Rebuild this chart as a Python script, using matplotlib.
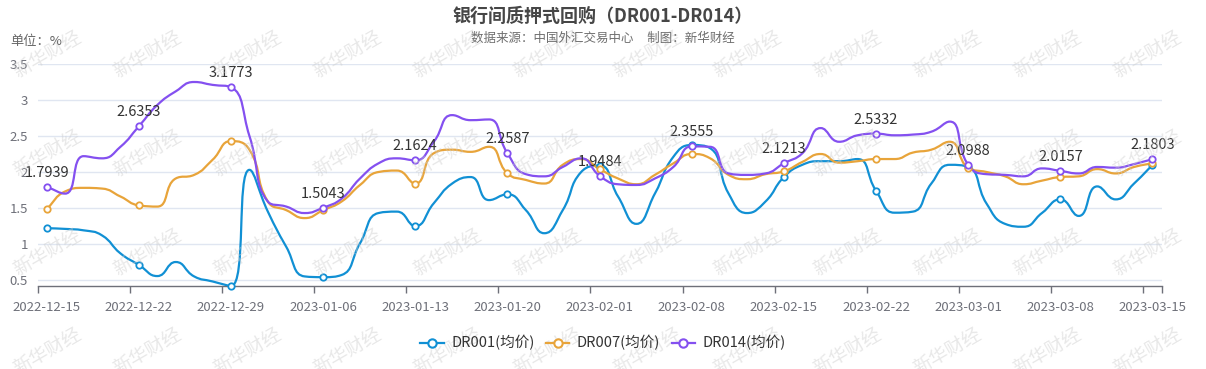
import numpy as np
import matplotlib
matplotlib.use('Agg')
import matplotlib.pyplot as plt
from matplotlib.path import Path
from matplotlib.patches import PathPatch

plt.rcParams['font.family'] = ['Noto Sans CJK SC', 'DejaVu Sans']

# trading days, 2022-12-15 .. 2023-03-15
dates = ['2022-12-15', '2022-12-16', '2022-12-19', '2022-12-20', '2022-12-21', '2022-12-22',
         '2022-12-23', '2022-12-26', '2022-12-27', '2022-12-28', '2022-12-29', '2022-12-30',
         '2023-01-03', '2023-01-04', '2023-01-05', '2023-01-06', '2023-01-09', '2023-01-10',
         '2023-01-11', '2023-01-12', '2023-01-13', '2023-01-16', '2023-01-17', '2023-01-18',
         '2023-01-19', '2023-01-20', '2023-01-28', '2023-01-29', '2023-01-30', '2023-01-31',
         '2023-02-01', '2023-02-02', '2023-02-03', '2023-02-06', '2023-02-07', '2023-02-08',
         '2023-02-09', '2023-02-10', '2023-02-13', '2023-02-14', '2023-02-15', '2023-02-16',
         '2023-02-17', '2023-02-20', '2023-02-21', '2023-02-22', '2023-02-23', '2023-02-24',
         '2023-02-27', '2023-02-28', '2023-03-01', '2023-03-02', '2023-03-03', '2023-03-06',
         '2023-03-07', '2023-03-08', '2023-03-09', '2023-03-10', '2023-03-13', '2023-03-14',
         '2023-03-15']

dr001 = [1.22, 1.21, 1.19, 1.12, 0.87, 0.71, 0.555, 0.75, 0.55, 0.48,
         0.417, 2.03, 1.45, 0.96, 0.55, 0.54, 0.57, 1.01, 1.43, 1.45,
         1.25, 1.565, 1.84, 1.93, 1.61, 1.69, 1.47, 1.15, 1.47, 2.00,
         2.09, 1.66, 1.28, 1.70, 2.21, 2.375, 2.33, 1.70, 1.43, 1.59,
         1.93, 2.10, 2.15, 2.15, 2.18, 1.74, 1.435, 1.45, 1.84, 2.10,
         2.07, 1.56, 1.28, 1.24, 1.43, 1.62, 1.39, 1.80, 1.62, 1.84,
         2.10]
dr007 = [1.486, 1.73, 1.78, 1.77, 1.66, 1.537, 1.52, 1.91, 1.96, 2.17,
         2.43, 2.31, 1.59, 1.47, 1.36, 1.47, 1.59, 1.82, 2.00, 2.02,
         1.84, 2.26, 2.31, 2.28, 2.35, 1.98, 1.89, 1.84, 2.10, 2.18,
         2.04, 1.91, 1.83, 1.96, 2.12, 2.25, 2.19, 1.96, 1.90, 1.97,
         2.01, 2.14, 2.25, 2.13, 2.15, 2.18, 2.18, 2.27, 2.31, 2.42,
         2.06, 2.00, 1.94, 1.83, 1.88, 1.93, 1.94, 2.04, 1.98, 2.07,
         2.12]
dr014 = [1.7939, 1.70, 2.22, 2.19, 2.35, 2.6353, 2.93, 3.12, 3.25, 3.21,
         3.1773, 2.50, 1.59, 1.52, 1.43, 1.5043, 1.63, 1.91, 2.12, 2.19,
         2.1624, 2.42, 2.79, 2.72, 2.73, 2.2587, 1.97, 1.94, 2.07, 2.19,
         1.9484, 1.83, 1.82, 1.91, 2.07, 2.3555, 2.35, 1.98, 1.96, 1.98,
         2.1213, 2.26, 2.61, 2.42, 2.51, 2.5332, 2.51, 2.52, 2.56, 2.70,
         2.0988, 1.97, 1.96, 1.94, 2.05, 2.0157, 1.98, 2.07, 2.06, 2.11,
         2.1803]

names = ['DR001(均价)', 'DR007(均价)', 'DR014(均价)']
colors = ['#1190d4', '#e8a43a', '#8450f0']


def smooth_path(xs, ys, sx, sy, smooth=0.5):
    # echarts-like bezier smoothing with control points clamped to neighbours
    px = np.asarray(xs, float) * sx
    py = np.asarray(ys, float) * sy
    n = len(px)
    verts = [(px[0], py[0])]
    codes = [Path.MOVETO]
    cp0 = (px[0], py[0])
    for i in range(n):
        x, y = px[i], py[i]
        prx, pry = (px[i - 1], py[i - 1]) if i > 0 else (x, y)
        nx, ny = (px[i + 1], py[i + 1]) if i < n - 1 else (x, y)
        if i > 0:
            vx, vy = nx - prx, ny - pry
            l0 = np.hypot(x - prx, y - pry)
            l1 = np.hypot(nx - x, ny - y)
            if l1 > 0:
                r = l1 / (l0 + l1)
                ncx = min(max(x + vx * smooth * r, min(nx, x)), max(nx, x))
                ncy = min(max(y + vy * smooth * r, min(ny, y)), max(ny, y))
                c1x = x - (ncx - x) * l0 / l1
                c1y = y - (ncy - y) * l0 / l1
                c1x = min(max(c1x, min(prx, x)), max(prx, x))
                c1y = min(max(c1y, min(pry, y)), max(pry, y))
                ncx = x + (x - c1x) * l1 / l0
                ncy = y + (y - c1y) * l1 / l0
            else:
                c1x, c1y = x, y
                ncx, ncy = x, y
            verts += [cp0, (c1x, c1y), (x, y)]
            codes += [Path.CURVE4] * 3
            cp0 = (ncx, ncy)
        else:
            cp0 = (x + (nx - x) * smooth, y + (ny - y) * smooth)
    v = np.array(verts)
    v[:, 0] /= sx
    v[:, 1] /= sy
    return Path(v, codes)


fig = plt.figure(figsize=(12.06, 3.69), dpi=100)
W, H = 1206, 369
ax = fig.add_axes([37.5 / W, (H - 286) / H, (1161.7 - 37.5) / W, (286 - 64) / H])

x = np.arange(len(dates))
ymin = min(min(dr001), min(dr007), min(dr014))
ax.set_xlim(-0.5, len(dates) - 0.5)
ax.set_ylim(ymin, 3.5)

# pixels per data unit, for the smoothing
sx = (1161.7 - 37.5) / len(dates)
sy = (286 - 64) / (3.5 - ymin)

for vals, c, name in zip([dr001, dr007, dr014], colors, names):
    ax.add_patch(PathPatch(smooth_path(x, vals, sx, sy), fill=False, edgecolor=c,
                           lw=1.6, zorder=3, capstyle='round', joinstyle='round'))
    ax.plot(x[::5], np.asarray(vals)[::5], ls='none', marker='o', ms=4.6,
            mfc='white', mec=c, mew=1.3, zorder=4, clip_on=False)
    ax.plot([], [], color=c, lw=1.6, marker='o', ms=6, mfc='white', mec=c,
            mew=1.5, label=name)

for i in x[::5]:
    ax.annotate('%.4f' % dr014[i], (i, dr014[i]), xytext=(0, 5),
                textcoords='offset points', ha='center', va='bottom',
                fontsize=10.5, color='#333333', zorder=5)

ax.set_yticks([0.5, 1, 1.5, 2, 2.5, 3, 3.5])
ax.set_yticklabels(['0.5', '1', '1.5', '2', '2.5', '3', '3.5'])
ax.grid(axis='y', color='#e0e6f1', lw=1)
ax.set_axisbelow(True)
ax.set_xticks(x[::5])
ax.set_xticklabels([dates[i] for i in x[::5]])
ax.set_xticks(np.append(x[::5] - 0.5, len(dates) - 0.5), minor=True)
ax.tick_params(axis='x', which='major', length=0, pad=11, labelsize=9.5,
               labelcolor='#6e7079')
ax.tick_params(axis='x', which='minor', length=5, width=1, color='#6e7079')
ax.tick_params(axis='y', length=0, pad=7, labelsize=9.5, labelcolor='#6e7079')
for s in ['top', 'right', 'left']:
    ax.spines[s].set_visible(False)
ax.spines['bottom'].set_color('#6e7079')
ax.spines['bottom'].set_linewidth(1)

fig.text(0.5, 1 - 16.5 / H, '银行间质押式回购（DR001-DR014）', ha='center', va='center',
         fontsize=13, fontweight='bold', color='#464646')
fig.text(0.5, 1 - 38 / H, '数据来源：中国外汇交易中心     制图：新华财经', ha='center',
         va='center', fontsize=9, color='#6e6e6e')
fig.text(10 / W, 1 - 41 / H, '单位：%', ha='left', va='center', fontsize=9.5,
         color='#666666')

fig.legend(loc='center', bbox_to_anchor=(0.5, 1 - 343 / H), ncol=3, frameon=False,
           fontsize=10.5, handlelength=1.6, handletextpad=0.5, columnspacing=0.8,
           labelcolor='#333333')

# watermark
for row in range(4):
    for col in range(12):
        fig.text((47 + 100 * col) / W, 1 - (55 + 99 * row) / H, '新华财经', rotation=30,
                 ha='center', va='center', fontsize=13.5, color='#cccccc', alpha=0.45,
                 zorder=0)

fig.savefig('out.png', dpi=100)
